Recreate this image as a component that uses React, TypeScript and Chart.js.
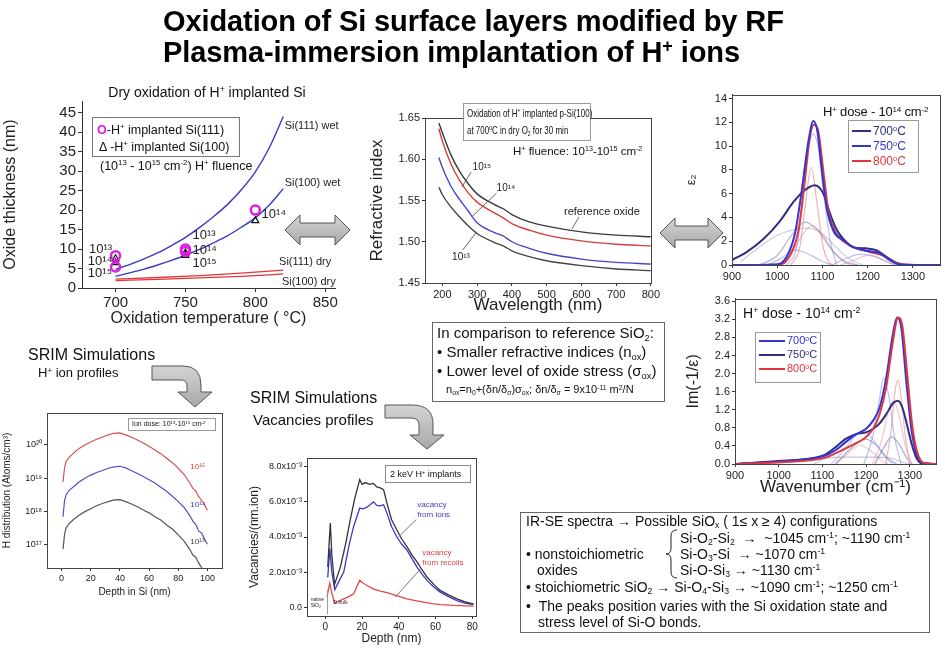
import React, { useEffect, useRef } from 'react';
import { Chart, registerables } from 'chart.js';

Chart.register(...registerables);

const FONT = '"Liberation Sans", Arial, Helvetica, sans-serif';
Chart.defaults.font.family = FONT;
Chart.defaults.color = '#222';

// ===== Panel A: oxide thickness vs oxidation temperature =====
const tempGrid = [700, 710, 720, 730, 740, 750, 760, 770, 780, 790, 800, 810, 820];
const si111Wet = [4.8, 6.0, 7.4, 9.0, 10.9, 13.0, 15.5, 18.3, 21.4, 25.2, 29.8, 36.0, 44.0];
const si100Wet = [3.0, 3.9, 4.8, 5.9, 7.1, 8.4, 9.9, 11.6, 13.4, 15.6, 18.0, 21.3, 25.5];
const dryTemps = [700, 730, 760, 790, 820];
const si111Dry = [2.3, 2.7, 3.2, 3.8, 4.6];
const si100Dry = [1.9, 2.2, 2.6, 3.0, 3.6];
const si111PtsT = [700, 700, 750, 750, 800];
const si111PtsD = [8.3, 5.4, 10.0, 9.4, 20.0];
const si100PtsT = [700, 700, 750, 750, 800];
const si100PtsD = [7.5, 6.5, 9.0, 8.4, 17.3];
const thickTicks = [0, 5, 10, 15, 20, 25, 30, 35, 40, 45];
const thickTickLabels = ['0', '5', '10', '15', '20', '25', '30', '35', '40', '45'];
const tempTicks = [700, 750, 800, 850];
const tempTickLabels = ['700', '750', '800', '850'];

// ===== Panel B: refractive index vs wavelength =====
const wavelengths = [190, 200, 225, 250, 275, 300, 350, 375, 400, 450, 500, 600, 700, 800];
const nReference = [1.644, 1.632, 1.605, 1.585, 1.570, 1.558, 1.545, 1.540, 1.533, 1.524, 1.519, 1.512, 1.508, 1.506];
const nFluence15 = [1.637, 1.622, 1.594, 1.574, 1.559, 1.548, 1.535, 1.529, 1.522, 1.514, 1.508, 1.501, 1.497, 1.495];
const nFluence14 = [1.602, 1.590, 1.567, 1.551, 1.537, 1.523, 1.511, 1.507, 1.500, 1.492, 1.486, 1.479, 1.475, 1.473];
const nFluence13 = [1.566, 1.557, 1.542, 1.530, 1.519, 1.510, 1.499, 1.495, 1.489, 1.482, 1.477, 1.471, 1.467, 1.465];
const nTicks = [1.45, 1.5, 1.55, 1.6, 1.65];
const nTickLabels = ['1.45', '1.50', '1.55', '1.60', '1.65'];
const wlTicks = [200, 300, 400, 500, 600, 700, 800];
const wlTickLabels = ['200', '300', '400', '500', '600', '700', '800'];

// ===== Panel C: epsilon2 spectra =====
const e2x700 = [900, 933, 970, 1006, 1036, 1058, 1083, 1102, 1117, 1131, 1146, 1168, 1197, 1219, 1241, 1263, 1285, 1360];
const e2y700 = [0.42, 1.1, 2.2, 3.7, 5.3, 6.2, 6.7, 6.0, 4.3, 3.0, 2.2, 1.5, 1.4, 1.25, 0.7, 0.2, 0.0, 0.0];
const e2x750 = [900, 999, 1021, 1039, 1054, 1069, 1080, 1089, 1098, 1109, 1124, 1146, 1168, 1197, 1227, 1249, 1271, 1360];
const e2y750 = [0, 0.05, 0.7, 2.6, 6.2, 10.4, 12.1, 11.2, 8.2, 4.9, 2.9, 2.1, 1.5, 1.2, 1.0, 0.4, 0.05, 0];
const e2x800 = [900, 1006, 1028, 1047, 1061, 1072, 1081, 1091, 1102, 1113, 1128, 1150, 1175, 1205, 1234, 1256, 1278, 1360];
const e2y800 = [0, 0.05, 0.8, 2.9, 7.1, 10.7, 11.8, 11.2, 7.9, 4.6, 2.8, 1.9, 1.4, 1.1, 0.8, 0.3, 0.05, 0];
const e2cAx = [1021, 1043, 1058, 1069, 1080, 1091, 1102, 1117, 1131];
const e2cAy = [0, 1.5, 5.7, 9.8, 11.0, 9.8, 6.2, 2.1, 0];
const e2cBx = [1030, 1050, 1062, 1075, 1088, 1100, 1115, 1125];
const e2cBy = [0, 1.5, 5.0, 8.2, 5.2, 1.8, 0.2, 0];
const e2cCx = [960, 1000, 1030, 1062, 1090, 1120, 1150, 1180];
const e2cCy = [0, 0.8, 2.4, 3.6, 2.9, 1.3, 0.3, 0];
const e2cDx = [1000, 1030, 1055, 1078, 1100, 1125, 1150, 1170];
const e2cDy = [0, 0.8, 2.5, 3.3, 2.6, 1.1, 0.2, 0];
const e2cEx = [920, 960, 1000, 1040, 1070, 1100, 1130, 1160, 1190];
const e2cEy = [0.3, 1.5, 2.5, 3.0, 3.1, 2.6, 1.5, 0.5, 0];
const e2cFx = [980, 1010, 1040, 1070, 1100, 1120];
const e2cFy = [0, 0.6, 1.25, 0.9, 0.3, 0];
const e2cGx = [1120, 1150, 1180, 1210, 1240, 1260];
const e2cGy = [0, 0.5, 0.9, 0.8, 0.3, 0];
const e2cHx = [1140, 1170, 1200, 1225, 1250, 1270];
const e2cHy = [0, 0.4, 0.8, 0.6, 0.15, 0];
const e2Ticks = [0, 2, 4, 6, 8, 10, 12, 14];
const e2TickLabels = ['0', '2', '4', '6', '8', '10', '12', '14'];
const wnTicks = [900, 1000, 1100, 1200, 1300];
const wnTickLabels = ['900', '1000', '1100', '1200', '1300'];

// ===== Panel D: energy loss function Im(-1/eps) =====
const imX700 = [900, 1005, 1102, 1131, 1154, 1177, 1200, 1216, 1231, 1246, 1262, 1271, 1281, 1292, 1304, 1315, 1331, 1360];
const imY700 = [0, 0.06, 0.17, 0.31, 0.49, 0.66, 0.78, 0.96, 1.25, 1.9, 2.91, 3.24, 2.99, 1.83, 0.75, 0.24, 0.02, 0];
const imX750 = [900, 1005, 1102, 1131, 1154, 1177, 1200, 1216, 1231, 1246, 1262, 1273, 1283, 1294, 1305, 1316, 1331, 1360];
const imY750 = [0, 0.07, 0.19, 0.38, 0.56, 0.66, 0.7, 0.78, 0.9, 1.1, 1.35, 1.4, 1.25, 0.85, 0.42, 0.12, 0, 0];
const imX800 = [900, 1005, 1102, 1131, 1154, 1177, 1200, 1216, 1231, 1246, 1262, 1273, 1283, 1294, 1305, 1316, 1331, 1360];
const imY800 = [0, 0.04, 0.13, 0.24, 0.35, 0.46, 0.6, 0.78, 1.1, 1.7, 2.75, 3.24, 3.05, 2.0, 0.9, 0.3, 0.03, 0];
const imCAx = [1195, 1215, 1230, 1240, 1252, 1265, 1280];
const imCAy = [0, 0.6, 1.4, 1.9, 1.5, 0.6, 0];
const imCBx = [1245, 1258, 1266, 1273, 1280, 1290, 1300];
const imCBy = [0, 0.8, 1.6, 1.85, 1.5, 0.6, 0];
const imCCx = [1215, 1235, 1252, 1263, 1275, 1290, 1305];
const imCCy = [0, 0.5, 1.2, 1.4, 1.1, 0.4, 0];
const imCDx = [1220, 1240, 1258, 1275, 1295, 1305];
const imCDy = [0, 0.35, 0.6, 0.45, 0.1, 0];
const imCEx = [1120, 1150, 1175, 1195, 1215, 1240, 1260];
const imCEy = [0, 0.3, 0.62, 0.72, 0.55, 0.2, 0];
const imCFx = [1130, 1160, 1185, 1200, 1225, 1250, 1270];
const imCFy = [0, 0.3, 0.5, 0.55, 0.4, 0.12, 0];
const imCGx = [1130, 1155, 1185, 1210, 1235, 1250];
const imCGy = [0, 0.2, 0.42, 0.3, 0.08, 0];
const imCHx = [1080, 1110, 1150, 1200, 1250, 1280, 1300];
const imCHy = [0, 0.13, 0.15, 0.15, 0.14, 0.05, 0];
const imTicks = [0, 0.4, 0.8, 1.2, 1.6, 2.0, 2.4, 2.8, 3.2, 3.6];
const imTickLabels = ['0.0', '0.4', '0.8', '1.2', '1.6', '2.0', '2.4', '2.8', '3.2', '3.6'];

// ===== Panel E: SRIM H+ ion profiles =====
const hDepth = [1, 2, 3, 5, 8, 12, 16, 20, 24, 28, 32, 36, 40, 44, 48, 52, 56, 60, 64, 68, 72, 76, 80, 84, 88, 90, 92, 94, 96, 98, 100];
const hDose15 = [7.8e18, 2.0e19, 3.2e19, 4.2e19, 5.6e19, 7.9e19, 1.0e20, 1.23e20, 1.48e20, 1.74e20, 2.0e20, 2.24e20, 2.29e20, 2.0e20, 1.7e20, 1.41e20, 1.15e20, 9.1e19, 7.1e19, 5.5e19, 4.0e19, 2.95e19, 2.0e19, 1.32e19, 7.1e18, 5.0e18, 4.2e18, 2.8e18, 2.2e18, 1.6e18, 1.1e18];
const hDose14 = [7.0e17, 2.1e18, 3.1e18, 4.3e18, 5.5e18, 7.7e18, 1.0e19, 1.25e19, 1.5e19, 1.72e19, 2.0e19, 2.2e19, 2.3e19, 2.05e19, 1.68e19, 1.4e19, 1.13e19, 9.0e18, 7.2e18, 5.4e18, 4.1e18, 2.9e18, 2.0e18, 1.35e18, 7.5e17, 5.2e17, 4.1e17, 2.6e17, 2.3e17, 1.5e17, 1.05e17];
const hDose13 = [7.5e16, 2.0e17, 3.2e17, 4.3e17, 5.7e17, 7.8e17, 1.0e18, 1.22e18, 1.5e18, 1.75e18, 2.0e18, 2.25e18, 2.3e18, 2.0e18, 1.7e18, 1.4e18, 1.12e18, 9.2e17, 7.0e17, 5.6e17, 4.0e17, 3.0e17, 2.0e17, 1.3e17, 7.3e16, 5.0e16, 4.3e16, 2.9e16, 2.1e16, 1.7e16, 1.4e16];
const hTicks = [1e17, 1e18, 1e19, 1e20];
const hTickLabels = ['10¹⁷', '10¹⁸', '10¹⁹', '10²⁰'];
const depthTicks = [0, 20, 40, 60, 80, 100];
const depthTickLabels = ['0', '20', '40', '60', '80', '100'];

// ===== Panel F: SRIM vacancy profiles (units of 1e-3 vacancies/(nm.ion)) =====
const vacTotX = [1.3, 2.7, 3.5, 5.0, 8.2, 11, 13.6, 16, 18.7, 20, 21.7, 24, 26.2, 28, 29.9, 31.7, 33.5, 36, 38.9, 41.5, 44.4, 47, 49.8, 52.5, 55.3, 59, 62.5, 67, 71.6, 76, 80.6];
const vacTotY = [2.3, 4.8, 3.0, 1.3, 2.3, 3.6, 5.0, 6.2, 7.27, 7.0, 7.1, 7.0, 7.05, 6.85, 6.8, 6.7, 5.93, 5.0, 4.4, 3.9, 3.45, 3.0, 2.6, 2.15, 1.72, 1.3, 0.96, 0.7, 0.48, 0.3, 0.19];
const vacIonX = [1.3, 2.4, 3.5, 5.1, 8, 10, 13, 15.4, 18.7, 20.5, 22.7, 24.5, 26.2, 28, 29.9, 31.7, 33.5, 36, 38.9, 41.5, 44.4, 47, 49.8, 52.5, 55.3, 59, 62.5, 67, 71.6, 76, 80.6];
const vacIonY = [1.7, 3.35, 2.0, 1.0, 1.6, 2.0, 3.6, 4.6, 5.65, 5.6, 5.7, 5.85, 6.0, 5.8, 5.78, 5.84, 5.36, 4.6, 4.0, 3.6, 3.25, 2.8, 2.3, 1.9, 1.53, 1.15, 0.86, 0.6, 0.38, 0.24, 0.15];
const vacRecX = [0.9, 2.4, 3.5, 5.1, 8, 10, 13, 15.4, 18.7, 20.5, 22.7, 26, 29.9, 33, 35.3, 40, 44.4, 49, 53.4, 58, 62.5, 70, 80.6];
const vacRecY = [0.61, 1.38, 0.8, 0.23, 0.38, 0.48, 0.62, 0.77, 1.53, 1.38, 1.24, 1.05, 0.92, 0.85, 0.77, 0.62, 0.48, 0.38, 0.29, 0.2, 0.15, 0.1, 0.06];
const vacTicks = [0, 2, 4, 6, 8];
const vacTickLabels = ['0.0', '2.0x10⁻³', '4.0x10⁻³', '6.0x10⁻³', '8.0x10⁻³'];
const vacDepthTicks = [0, 20, 40, 60, 80];
const vacDepthTickLabels = ['0', '20', '40', '60', '80'];

// ===== colours =====
const NAVY = '#2e2e80';
const BLUE = '#3434d6';
const RED = '#e0363c';
const MAGENTA = '#e01ee0';

type Box = { left: number; top: number; width: number; height: number };
type Area = { l: number; t: number; r: number; b: number };
type Lbl = {
  x?: number; y?: number; text?: string; color?: string; size?: number;
  align?: CanvasTextAlign; line?: [number, number, number, number]; lineColor?: string;
};

const xy = (xs: number[], ys: number[]) => xs.map((x, i) => ({ x, y: ys[i] }));

function curve(xs: number[], ys: number[], color: string, width = 1.5, smooth = true) {
  return {
    data: xy(xs, ys),
    borderColor: color,
    backgroundColor: color,
    borderWidth: width,
    pointRadius: 0,
    fill: false,
    tension: 0,
    cubicInterpolationMode: smooth ? 'monotone' : 'default',
  };
}

function overlayPlugin(frame: boolean, labels: Lbl[]) {
  return {
    id: 'overlay',
    afterDatasetsDraw(chart: any) {
      const { ctx, chartArea: a, scales } = chart;
      const sx = scales.x;
      const sy = scales.y;
      ctx.save();
      if (frame) {
        ctx.strokeStyle = '#444';
        ctx.lineWidth = 1;
        ctx.strokeRect(Math.round(a.left) + 0.5, Math.round(a.top) + 0.5, Math.round(a.right - a.left), Math.round(a.bottom - a.top));
      }
      for (const L of labels) {
        if (L.line) {
          ctx.strokeStyle = L.lineColor || '#666';
          ctx.lineWidth = 1;
          ctx.beginPath();
          ctx.moveTo(sx.getPixelForValue(L.line[0]), sy.getPixelForValue(L.line[1]));
          ctx.lineTo(sx.getPixelForValue(L.line[2]), sy.getPixelForValue(L.line[3]));
          ctx.stroke();
        }
        if (L.text !== undefined && L.x !== undefined && L.y !== undefined) {
          ctx.font = `${L.size || 11}px ${FONT}`;
          ctx.fillStyle = L.color || '#222';
          ctx.textAlign = L.align || 'left';
          ctx.textBaseline = 'middle';
          ctx.fillText(L.text, sx.getPixelForValue(L.x), sy.getPixelForValue(L.y));
        }
      }
      ctx.restore();
    },
  };
}

function axis(opts: {
  type?: string; min: number; max: number; ticks: number[]; labels: string[]; size: number;
  title?: string; titleSize?: number; tickLen?: number;
}) {
  return {
    type: opts.type || 'linear',
    min: opts.min,
    max: opts.max,
    afterBuildTicks: (s: any) => { s.ticks = opts.ticks.map((v) => ({ value: v })); },
    ticks: {
      font: { size: opts.size, family: FONT },
      color: '#222',
      padding: 2,
      maxRotation: 0,
      minRotation: 0,
      autoSkip: false,
      callback: (_v: any, i: number) => opts.labels[i],
    },
    grid: { display: true, drawOnChartArea: false, drawTicks: true, tickLength: opts.tickLen ?? 4, color: '#333' },
    border: { display: true, color: '#333', width: 1 },
    title: opts.title
      ? { display: true, text: opts.title, font: { size: opts.titleSize || 14, family: FONT }, color: '#222', padding: { top: 1, bottom: 2 } }
      : { display: false },
  };
}

function makeConfig(box: Box, area: Area, datasets: any[], xs: any, ys: any, frame: boolean, labels: Lbl[]) {
  return {
    type: 'line',
    data: { datasets },
    options: {
      responsive: false,
      maintainAspectRatio: false,
      animation: false,
      events: [],
      layout: { padding: { top: area.t - box.top, right: box.left + box.width - area.r, left: 0, bottom: 0 } },
      plugins: { legend: { display: false }, tooltip: { enabled: false }, title: { display: false } },
      elements: { point: { radius: 0 } },
      scales: {
        x: { ...xs, position: 'bottom', afterFit: (s: any) => { s.height = box.top + box.height - area.b; } },
        y: { ...ys, position: 'left', afterFit: (s: any) => { s.width = area.l - box.left; } },
      },
    },
    plugins: [overlayPlugin(frame, labels)],
  };
}

function ChartCanvas({ box, make }: { box: Box; make: () => any }) {
  const ref = useRef<HTMLCanvasElement | null>(null);
  useEffect(() => {
    if (!ref.current) return;
    const chart = new Chart(ref.current, make());
    return () => chart.destroy();
  }, []);
  return (
    <canvas
      ref={ref}
      width={box.width}
      height={box.height}
      style={{ position: 'absolute', left: box.left, top: box.top, width: box.width, height: box.height }}
    />
  );
}

// ---------- panel configs ----------
const boxA: Box = { left: 0, top: 90, width: 345, height: 240 };
const areaA: Area = { l: 82, t: 99, r: 335, b: 288 };
const makeA = () =>
  makeConfig(
    boxA, areaA,
    [
      { type: 'scatter', data: xy(si111PtsT, si111PtsD), showLine: false, pointStyle: 'circle', pointRadius: 4.5, borderWidth: 2.5, borderColor: MAGENTA, backgroundColor: 'rgba(0,0,0,0)' },
      { type: 'scatter', data: xy(si100PtsT, si100PtsD), showLine: false, pointStyle: 'triangle', pointRadius: 4, borderWidth: 1.2, borderColor: '#111', backgroundColor: 'rgba(0,0,0,0)' },
      curve(tempGrid, si111Wet, '#3a3ac4', 1.4),
      curve(tempGrid, si100Wet, '#3a3ac4', 1.4),
      curve(dryTemps, si111Dry, RED, 1.3),
      curve(dryTemps, si100Dry, RED, 1.3),
    ],
    axis({ min: 676, max: 857, ticks: tempTicks, labels: tempTickLabels, size: 15, title: 'Oxidation temperature ( °C)', titleSize: 16 }),
    axis({ min: 0, max: 48, ticks: thickTicks, labels: thickTickLabels, size: 15, title: 'Oxide thickness (nm)', titleSize: 16 }),
    false,
    [
      { x: 821, y: 41.5, text: 'Si(111) wet', size: 11 },
      { x: 821, y: 27, text: 'Si(100) wet', size: 11 },
      { x: 817, y: 6.8, text: 'Si(111) dry', size: 11 },
      { x: 819, y: 1.5, text: 'Si(100) dry', size: 11 },
      { x: 697.5, y: 9.9, text: '10¹³', size: 13, align: 'right' },
      { x: 697.5, y: 6.8, text: '10¹⁴', size: 13, align: 'right' },
      { x: 697.5, y: 3.8, text: '10¹⁵', size: 13, align: 'right' },
      { x: 755, y: 13.6, text: '10¹³', size: 13 },
      { x: 755, y: 9.6, text: '10¹⁴', size: 13 },
      { x: 755, y: 6.3, text: '10¹⁵', size: 13 },
      { x: 804.5, y: 19, text: '10¹⁴', size: 13 },
    ]
  );

const boxB: Box = { left: 366, top: 100, width: 296, height: 218 };
const areaB: Area = { l: 425, t: 118, r: 653, b: 283 };
const makeB = () =>
  makeConfig(
    boxB, areaB,
    [
      curve(wavelengths, nReference, '#3a3a3a', 1.4),
      curve(wavelengths, nFluence15, '#d83a3a', 1.4),
      curve(wavelengths, nFluence14, '#4646c8', 1.4),
      curve(wavelengths, nFluence13, '#444444', 1.4),
    ],
    axis({ min: 150, max: 800, ticks: wlTicks, labels: wlTickLabels, size: 11, title: 'Wavelength (nm)', titleSize: 17, tickLen: 3 }),
    axis({ min: 1.45, max: 1.65, ticks: nTicks, labels: nTickLabels, size: 11, title: 'Refractive index', titleSize: 17, tickLen: 3 }),
    true,
    [
      { x: 287, y: 1.5906, text: '10¹⁵', size: 10, line: [283, 1.5845, 256, 1.5664] },
      { x: 356, y: 1.565, text: '10¹⁴', size: 10, line: [356, 1.559, 284, 1.53] },
      { x: 228, y: 1.4815, text: '10¹³', size: 10, line: [258.6, 1.49, 298.6, 1.5118] },
      { x: 550, y: 1.536, text: 'reference oxide', size: 11, line: [593, 1.53, 573, 1.5155] },
    ]
  );

const boxC: Box = { left: 683, top: 86, width: 262, height: 197 };
const areaC: Area = { l: 732, t: 93, r: 940, b: 265 };
const makeC = () =>
  makeConfig(
    boxC, areaC,
    [
      curve(e2x750, e2y750, BLUE, 2),
      curve(e2x800, e2y800, RED, 2),
      curve(e2x700, e2y700, NAVY, 2),
      curve(e2cAx, e2cAy, 'rgba(120,140,230,0.55)', 1.2),
      curve(e2cBx, e2cBy, 'rgba(235,120,130,0.6)', 1.2),
      curve(e2cCx, e2cCy, 'rgba(110,110,170,0.5)', 1.2),
      curve(e2cDx, e2cDy, 'rgba(235,150,160,0.6)', 1.2),
      curve(e2cEx, e2cEy, 'rgba(150,150,200,0.5)', 1.2),
      curve(e2cFx, e2cFy, 'rgba(130,140,220,0.55)', 1.2),
      curve(e2cGx, e2cGy, 'rgba(130,140,220,0.55)', 1.2),
      curve(e2cHx, e2cHy, 'rgba(235,150,160,0.6)', 1.2),
    ],
    axis({ min: 900, max: 1360, ticks: wnTicks, labels: wnTickLabels, size: 11, tickLen: 3 }),
    axis({ min: 0, max: 14.33, ticks: e2Ticks, labels: e2TickLabels, size: 11, title: 'ε₂', titleSize: 13, tickLen: 3 }),
    true,
    []
  );

const boxD: Box = { left: 683, top: 290, width: 262, height: 210 };
const areaD: Area = { l: 735, t: 295, r: 936, b: 464 };
const makeD = () =>
  makeConfig(
    boxD, areaD,
    [
      curve(imX800, imY800, RED, 2),
      curve(imX700, imY700, BLUE, 2),
      curve(imX750, imY750, NAVY, 2),
      curve(imCAx, imCAy, 'rgba(120,140,230,0.55)', 1.2),
      curve(imCBx, imCBy, 'rgba(235,120,130,0.55)', 1.2),
      curve(imCCx, imCCy, 'rgba(235,150,160,0.55)', 1.2),
      curve(imCDx, imCDy, 'rgba(90,90,160,0.5)', 1.2),
      curve(imCEx, imCEy, 'rgba(120,140,230,0.5)', 1.2),
      curve(imCFx, imCFy, 'rgba(90,90,160,0.5)', 1.2),
      curve(imCGx, imCGy, 'rgba(235,150,160,0.55)', 1.2),
      curve(imCHx, imCHy, 'rgba(140,140,200,0.5)', 1.2),
    ],
    axis({ min: 900, max: 1360, ticks: wnTicks, labels: wnTickLabels, size: 11, title: 'Wavenumber (cm⁻¹)', titleSize: 17, tickLen: 3 }),
    axis({ min: 0, max: 3.66, ticks: imTicks, labels: imTickLabels, size: 11, title: 'Im(-1/ε)', titleSize: 16, tickLen: 3 }),
    true,
    []
  );

const boxE: Box = { left: 0, top: 405, width: 232, height: 195 };
const areaE: Area = { l: 47, t: 413, r: 222, b: 568 };
const makeE = () =>
  makeConfig(
    boxE, areaE,
    [
      curve(hDepth, hDose15, '#d85050', 1.2, false),
      curve(hDepth, hDose14, '#5050c8', 1.2, false),
      curve(hDepth, hDose13, '#555555', 1.2, false),
    ],
    axis({ min: -10, max: 110, ticks: depthTicks, labels: depthTickLabels, size: 9, title: 'Depth in Si (nm)', titleSize: 10, tickLen: 3 }),
    axis({ type: 'logarithmic', min: 2.04e16, max: 9.1e20, ticks: hTicks, labels: hTickLabels, size: 9, title: 'H distribution (Atoms/cm³)', titleSize: 10, tickLen: 3 }),
    true,
    [
      { x: 88.3, y: 2.2e19, text: '10¹⁵', size: 8, color: '#d84040' },
      { x: 88.3, y: 1.6e18, text: '10¹⁴', size: 8, color: '#4040c8' },
      { x: 88.3, y: 1.23e17, text: '10¹³', size: 8, color: '#444' },
    ]
  );

const boxF: Box = { left: 246, top: 450, width: 236, height: 198 };
const areaF: Area = { l: 307, t: 458, r: 476, b: 616 };
const makeF = () =>
  makeConfig(
    boxF, areaF,
    [
      curve(vacTotX, vacTotY, '#333333', 1.3, false),
      curve(vacIonX, vacIonY, '#3a3ac8', 1.3, false),
      curve(vacRecX, vacRecY, '#e04848', 1.3, false),
    ],
    axis({ min: -10, max: 82, ticks: vacDepthTicks, labels: vacDepthTickLabels, size: 10, title: 'Depth (nm)', titleSize: 12, tickLen: 3 }),
    axis({ min: -0.5, max: 8.5, ticks: vacTicks, labels: vacTickLabels, size: 9, title: 'Vacancies/(nm.ion)', titleSize: 12, tickLen: 3 }),
    true,
    [
      { x: 50, y: 5.83, text: 'vacancy', size: 8, color: '#3a3ad0' },
      { x: 50, y: 5.26, text: 'from ions', size: 8, color: '#3a3ad0' },
      { x: 52.7, y: 3.09, text: 'vacancy', size: 8, color: '#e04040' },
      { x: 52.7, y: 2.51, text: 'from recoils', size: 8, color: '#e04040' },
      { line: [49.5, 5.0, 39.7, 4.0], lineColor: '#777' },
      { line: [52, 2.2, 38, 0.57], lineColor: '#777' },
      { x: -8, y: 0.45, text: 'native', size: 5 },
      { x: -8, y: 0.1, text: 'SiO₂', size: 5 },
      { x: 4, y: 0.25, text: 'Si bulk', size: 5 },
      { line: [1.2, -0.4, 1.2, 1.0], lineColor: '#999' },
    ]
  );

// ---------- HTML text helpers ----------
const Sup = ({ children }: { children: React.ReactNode }) => (
  <span style={{ fontSize: '0.62em', position: 'relative', top: '-0.55em', lineHeight: 0 }}>{children}</span>
);
const Sub = ({ children }: { children: React.ReactNode }) => (
  <span style={{ fontSize: '0.62em', position: 'relative', top: '0.3em', lineHeight: 0 }}>{children}</span>
);
function Txt({ x, y, size, children, style }: { x: number; y: number; size: number; children: React.ReactNode; style?: React.CSSProperties }) {
  return (
    <div
      style={{
        position: 'absolute', left: x, top: y - size * 0.6, fontSize: size, lineHeight: `${size * 1.2}px`,
        whiteSpace: 'nowrap', fontFamily: FONT, color: '#111', transformOrigin: 'left center', ...style,
      }}
    >
      {children}
    </div>
  );
}
function Frame({ x, y, w, h, style }: { x: number; y: number; w: number; h: number; style?: React.CSSProperties }) {
  return (
    <div style={{ position: 'absolute', left: x, top: y, width: w, height: h, border: '1px solid #777', background: '#fff', boxSizing: 'border-box', ...style }} />
  );
}
function Swatch({ x, y, w, color }: { x: number; y: number; w: number; color: string }) {
  return <div style={{ position: 'absolute', left: x, top: y - 1, width: w, height: 2, background: color }} />;
}

export default function App() {
  return (
    <div style={{ position: 'absolute', left: 0, top: 0, width: 945, height: 648, background: '#fff', overflow: 'hidden', fontFamily: FONT, color: '#111' }}>
      <ChartCanvas box={boxA} make={makeA} />
      <ChartCanvas box={boxB} make={makeB} />
      <ChartCanvas box={boxC} make={makeC} />
      <ChartCanvas box={boxD} make={makeD} />
      <ChartCanvas box={boxE} make={makeE} />
      <ChartCanvas box={boxF} make={makeF} />

      {/* arrows */}
      <svg width={945} height={648} style={{ position: 'absolute', left: 0, top: 0, pointerEvents: 'none' }}>
        <defs>
          <linearGradient id="ag" x1="0" y1="0" x2="0" y2="1">
            <stop offset="0" stopColor="#d4d4d4" />
            <stop offset="1" stopColor="#a8a8a8" />
          </linearGradient>
        </defs>
        <path d="M285,230 L300,215 L300,223 L335,223 L335,215 L350,230 L335,245 L335,237 L300,237 L300,245 Z" fill="url(#ag)" stroke="#555" strokeWidth={1} />
        <path d="M660,233 L675,218 L675,226 L708,226 L708,218 L723,233 L708,248 L708,240 L675,240 L675,248 Z" fill="url(#ag)" stroke="#555" strokeWidth={1} />
        <path d="M152,366 L183,366 Q201,366 201,385 L201,392 L212,392 L195,407 L178,392 L187,392 L187,386 Q187,380 181,380 L152,380 Z" fill="url(#ag)" stroke="#555" strokeWidth={1} />
        <path d="M385,405 L412,405 Q433,405 433,424 L433,435 L444,435 L427,449 L410,435 L419,435 L419,425 Q419,418 411,418 L385,418 Z" fill="url(#ag)" stroke="#555" strokeWidth={1} />
        <path d="M677,530 Q671,530 671,536 L671,548 Q671,554 666,554 Q671,554 671,560 L671,572 Q671,578 677,578" fill="none" stroke="#222" strokeWidth={1} />
      </svg>

      {/* main title */}
      <div style={{ position: 'absolute', left: 163, top: 6, whiteSpace: 'nowrap', fontWeight: 'bold', fontSize: 29, lineHeight: '31px', letterSpacing: -0.1, color: '#000' }}>
        Oxidation of Si surface layers modified by RF
        <br />
        Plasma-immersion implantation of H<Sup>+</Sup> ions
      </div>

      {/* panel A texts */}
      <div style={{ position: 'absolute', left: 0, width: 414, top: 84, textAlign: 'center', fontSize: 14, lineHeight: '17px' }}>
        Dry oxidation of H<Sup>+</Sup> implanted Si
      </div>
      <Frame x={92} y={117} w={148} h={40} />
      <Txt x={97} y={130} size={12.5}>
        <span style={{ color: MAGENTA, fontWeight: 'bold' }}>O</span>-H<Sup>+</Sup> implanted Si(111)
      </Txt>
      <Txt x={99} y={147} size={12.5}>
        Δ -H<Sup>+</Sup> implanted Si(100)
      </Txt>
      <Txt x={100} y={166} size={12.5}>
        (10<Sup>13</Sup> - 10<Sup>15</Sup> cm<Sup>-2</Sup>) H<Sup>+</Sup> fluence
      </Txt>

      {/* panel B texts */}
      <Frame x={463} y={103} w={128} h={38} style={{ border: '1px solid #999' }} />
      <Txt x={467} y={113} size={10.5} style={{ transform: 'scaleX(0.76)' }}>
        Oxidation of H<Sup>+</Sup> implanted p-Si(100)
      </Txt>
      <Txt x={467} y={130} size={10.5} style={{ transform: 'scaleX(0.76)' }}>
        at 700<Sup>o</Sup>C in dry O<Sub>2</Sub> for 30 min
      </Txt>
      <Txt x={513} y={152} size={11.5}>
        H<Sup>+</Sup> fluence: 10<Sup>13</Sup>-10<Sup>15</Sup> cm<Sup>-2</Sup>
      </Txt>

      {/* panel C texts */}
      <Txt x={823} y={112} size={13} style={{ letterSpacing: -0.2 }}>
        H<Sup>+</Sup> dose - 10<Sup>14</Sup> cm<Sup>-2</Sup>
      </Txt>
      <Frame x={848} y={120} w={71} h={53} style={{ border: '1px solid #999' }} />
      <Swatch x={852} y={131} w={19} color={NAVY} />
      <Txt x={873} y={131} size={12} style={{ color: NAVY }}>700<Sup>o</Sup>C</Txt>
      <Swatch x={852} y={146} w={19} color={BLUE} />
      <Txt x={873} y={146} size={12} style={{ color: BLUE }}>750<Sup>o</Sup>C</Txt>
      <Swatch x={852} y={161} w={19} color={RED} />
      <Txt x={873} y={161} size={12} style={{ color: RED }}>800<Sup>o</Sup>C</Txt>

      {/* panel D texts */}
      <Txt x={743} y={313} size={14}>
        H<Sup>+</Sup> dose - 10<Sup>14</Sup> cm<Sup>-2</Sup>
      </Txt>
      <Frame x={755} y={332} w={66} h={51} style={{ border: '1px solid #999' }} />
      <Swatch x={759} y={341} w={26} color={BLUE} />
      <Txt x={787} y={341} size={11} style={{ color: BLUE }}>700<Sup>o</Sup>C</Txt>
      <Swatch x={759} y={355} w={26} color={NAVY} />
      <Txt x={787} y={355} size={11} style={{ color: NAVY }}>750<Sup>o</Sup>C</Txt>
      <Swatch x={759} y={369} w={26} color={RED} />
      <Txt x={787} y={369} size={11} style={{ color: RED }}>800<Sup>o</Sup>C</Txt>

      {/* panel E texts */}
      <Txt x={28} y={355} size={16}>SRIM Simulations</Txt>
      <Txt x={38} y={373} size={13}>H<Sup>+</Sup> ion profiles</Txt>
      <Frame x={128} y={418} w={88} h={13} style={{ border: '1px solid #999' }} />
      <Txt x={132} y={424.5} size={7}>
        Ion dose: 10<Sup>13</Sup>-10<Sup>15</Sup> cm<Sup>-2</Sup>
      </Txt>

      {/* panel F texts */}
      <Txt x={250} y={398} size={16}>SRIM Simulations</Txt>
      <Txt x={253} y={420} size={15}>Vacancies profiles</Txt>
      <Frame x={385} y={465} w={86} h={18} style={{ border: '1px solid #888' }} />
      <Txt x={390} y={474} size={9}>
        2 keV H<Sup>+</Sup> implants
      </Txt>

      {/* comparison box */}
      <Frame x={432} y={322} w={233} h={80} style={{ border: '1px solid #666' }} />
      <Txt x={437} y={333} size={15}>In comparison to reference SiO<Sub>2</Sub>:</Txt>
      <Txt x={437} y={352} size={15}>• Smaller refractive indices (n<Sub>ox</Sub>)</Txt>
      <Txt x={437} y={371} size={15}>• Lower level of oxide stress (σ<Sub>ox</Sub>)</Txt>
      <Txt x={446} y={390} size={11}>
        n<Sub>ox</Sub>=n<Sub>0</Sub>+(δn/δ<Sub>σ</Sub>)σ<Sub>ox</Sub>; δn/δ<Sub>σ</Sub> = 9x10<Sup>-11</Sup> m<Sup>2</Sup>/N
      </Txt>

      {/* IR-SE box */}
      <Frame x={520} y={512} w={410} h={121} style={{ border: '1px solid #666', background: 'transparent' }} />
      <Txt x={526} y={521} size={14}>IR-SE spectra → Possible SiO<Sub>x</Sub> ( 1≤ x ≥ 4) configurations</Txt>
      <Txt x={680} y={538} size={14}>Si-O<Sub>2</Sub>-Si<Sub>2</Sub> &nbsp;→ &nbsp;~1045 cm<Sup>-1</Sup>; ~1190 cm<Sup>-1</Sup></Txt>
      <Txt x={526} y={554} size={14}>• nonstoichiometric</Txt>
      <Txt x={680} y={554} size={14}>Si-O<Sub>3</Sub>-Si &nbsp;→ ~1070 cm<Sup>-1</Sup></Txt>
      <Txt x={537} y={570} size={14}>oxides</Txt>
      <Txt x={680} y={570} size={14}>Si-O-Si<Sub>3</Sub> → ~1130 cm<Sup>-1</Sup></Txt>
      <Txt x={526} y={587} size={14}>• stoichiometric SiO<Sub>2</Sub> → Si-O<Sub>4</Sub>-Si<Sub>3</Sub> → ~1090 cm<Sup>-1</Sup>; ~1250 cm<Sup>-1</Sup></Txt>
      <Txt x={526} y={606} size={14}>• &nbsp;The peaks position varies with the Si oxidation state and</Txt>
      <Txt x={538} y={622} size={14}>stress level of Si-O bonds.</Txt>
    </div>
  );
}
